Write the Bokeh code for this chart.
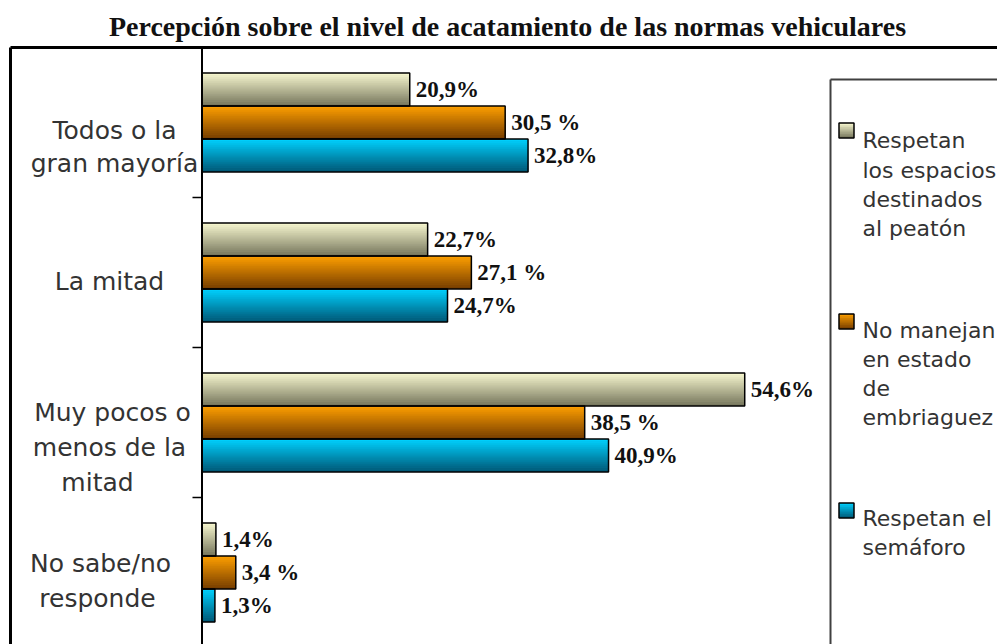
import numpy as np
from bokeh.plotting import figure
from bokeh.models import Range1d, ColumnDataSource
from bokeh.core.properties import value
from bokeh.embed import file_html
from bokeh.resources import INLINE

# ---------------- data ----------------
title = "Percepción sobre el nivel de acatamiento de las normas vehiculares"
categories = ["Todos o la gran mayoría", "La mitad",
              "Muy pocos o menos de la mitad", "No sabe/no responde"]
category_lines = [["Todos o la", "gran mayoría"],
                  ["La mitad"],
                  ["Muy pocos o", "menos de la", "mitad"],
                  ["No sabe/no", "responde"]]
series_names = ["Respetan los espacios destinados al peatón",
                "No manejan en estado de embriaguez",
                "Respetan el semáforo"]
legend_lines = [["Respetan", "los espacios", "destinados", "al peatón"],
                ["No manejan", "en estado", "de", "embriaguez"],
                ["Respetan el", "semáforo"]]
peaton = [20.9, 22.7, 54.6, 1.4]
embriaguez = [30.5, 27.1, 38.5, 3.4]
semaforo = [32.8, 24.7, 40.9, 1.3]
series_values = [peaton, embriaguez, semaforo]
label_sep = ["", " ", ""]

# ---------------- styling / layout ----------------
grad_top = ["#f8f8d0", "#ffa000", "#00d2ff"]
grad_bot = ["#74745a", "#743c00", "#005674"]

W, H = 997, 644
PX_PER_PCT = 9.94
ORIGIN_X = 201.5
CAT_PX = 150.0
BOTTOM_PX = 647.0


def X(px):
    return (px - ORIGIN_X) / PX_PER_PCT


def Y(py):
    return (BOTTOM_PX - py) / CAT_PX


def lerp(c1, c2, t):
    a = [int(c1[i:i + 2], 16) for i in (1, 3, 5)]
    b = [int(c2[i:i + 2], 16) for i in (1, 3, 5)]
    return "#%02x%02x%02x" % tuple(int(round(a[k] + (b[k] - a[k]) * t)) for k in range(3))


p = figure(width=W, height=H, output_backend="svg", toolbar_location=None,
           x_range=Range1d(X(0), X(W)), y_range=Range1d(Y(H), Y(0)),
           x_axis_type=None, y_axis_type=None, min_border=0)
p.outline_line_color = None
p.grid.visible = False
p.background_fill_color = "white"
p.border_fill_color = "white"

ncat = len(categories)
bar_h = 0.22
offsets = [bar_h, 0.0, -bar_h]
NSTRIP = 16

# gradient: overlapping strips, each from its top edge down to the bar bottom
sy, sh, sr, sc = [], [], [], []
oy, orr = [], []
for s, vals in enumerate(series_values):
    for i, v in enumerate(vals):
        cy = (ncat - 1 - i) + 0.5 + offsets[s]
        oy.append(cy)
        orr.append(v)
        top = cy + bar_h / 2
        bot = cy - bar_h / 2
        for k in range(NSTRIP):
            t = (k + 0.5) / NSTRIP
            stop = top - k * bar_h / NSTRIP
            sy.append((stop + bot) / 2)
            sh.append(stop - bot)
            sr.append(v)
            sc.append(lerp(grad_top[s], grad_bot[s], t))
p.hbar(y="y", height="h", left=0, right="r", fill_color="c", line_color=None,
       source=ColumnDataSource(dict(y=sy, h=sh, r=sr, c=sc)))
p.hbar(y=oy, height=bar_h, left=0, right=orr, fill_color=None,
       line_color="black", line_width=1.5)

# value labels
lx, ly, lt = [], [], []
for s, vals in enumerate(series_values):
    for i, v in enumerate(vals):
        lx.append(v)
        ly.append((ncat - 1 - i) + 0.5 + offsets[s])
        lt.append(f"{v:.1f}".replace(".", ",") + label_sep[s] + "%")
p.text(x=lx, y=ly, text=lt, x_offset=6, text_align="left", text_baseline="middle",
       text_font=value("Liberation Serif"), text_font_style="bold",
       text_font_size="23px", text_color="#111111")

# outer frame (top and left) and y axis
p.segment(x0=[X(10), X(10)], y0=[Y(47), Y(47)], x1=[X(1000), X(10)], y1=[Y(47), Y(650)],
          line_color="black", line_width=3)
p.segment(x0=[0], y0=[Y(47)], x1=[0], y1=[Y(650)], line_color="black", line_width=2)
bounds = list(range(1, ncat))
p.segment(x0=[X(192)] * len(bounds), y0=bounds, x1=[0] * len(bounds), y1=bounds,
          line_color="black", line_width=1.5)

# category labels
cat_cx = [[114, 114], [109], [112, 109, 97], [100, 97]]
cat_base = [[130, 163], [281], [412, 447, 482], [563, 598]]
tx, ty, tt = [], [], []
for i, lines in enumerate(category_lines):
    for j, ln in enumerate(lines):
        tx.append(X(cat_cx[i][j]))
        ty.append(Y(cat_base[i][j]))
        tt.append(ln)
p.text(x=tx, y=ty, text=tt, text_align="center", text_baseline="alphabetic",
       text_font=value("DejaVu Sans"), text_font_size="25px", text_color="#333333")

# title
p.text(x=[X(507)], y=[Y(26)], text=[title], text_align="center", text_baseline="middle",
       text_font=value("Liberation Serif"), text_font_style="bold",
       text_font_size="28px", text_color="#111111")

# legend box
p.segment(x0=[X(830), X(830)], y0=[Y(79), Y(79)], x1=[X(1000), X(830)], y1=[Y(79), Y(650)],
          line_color="#404040", line_width=2)

marker_cy = [130, 321, 510]
leg_base = [[140, 170, 199, 228], [330, 359, 388, 417], [518, 547]]
msz = 15
mx, my, mw, mh, mc = [], [], [], [], []
ox, oyy = [], []
NM = 7
for s in range(len(series_names)):
    cy = marker_cy[s]
    ox.append(X(846))
    oyy.append(Y(cy))
    topp = cy - msz / 2
    botp = cy + msz / 2
    for k in range(NM):
        t = (k + 0.5) / NM
        sp = topp + k * msz / NM
        mx.append(X(846))
        my.append(Y((sp + botp) / 2))
        mw.append(msz / PX_PER_PCT)
        mh.append((botp - sp) / CAT_PX)
        mc.append(lerp(grad_top[s], grad_bot[s], t))
p.rect(x="x", y="y", width="w", height="h", fill_color="c", line_color=None,
       source=ColumnDataSource(dict(x=mx, y=my, w=mw, h=mh, c=mc)))
p.rect(x=ox, y=oyy, width=msz / PX_PER_PCT, height=msz / CAT_PX, fill_color=None,
       line_color="black", line_width=1.5)

gx, gy, gt = [], [], []
for s, lines in enumerate(legend_lines):
    for j, ln in enumerate(lines):
        gx.append(X(862))
        gy.append(Y(leg_base[s][j]))
        gt.append(ln)
p.text(x=gx, y=gy, text=gt, text_align="left", text_baseline="alphabetic",
       text_font=value("DejaVu Sans"), text_font_size="22px", text_color="#333333")

open("out.html", "w").write(file_html(p, INLINE))
